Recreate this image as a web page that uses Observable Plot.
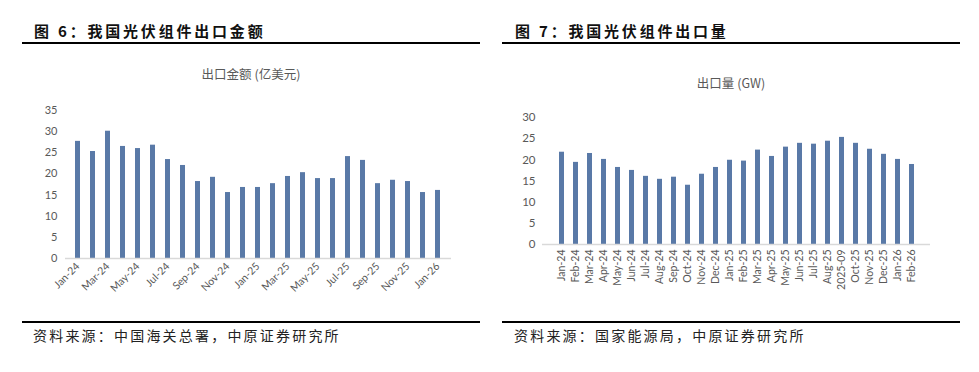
<!DOCTYPE html>
<html>
<head>
<meta charset="utf-8">
<script src="https://cdn.jsdelivr.net/npm/d3@7"></script>
<script src="https://cdn.jsdelivr.net/npm/@observablehq/plot@0.6"></script>
<style>
  html, body { margin: 0; padding: 0; background: #ffffff; }
  #root { position: relative; width: 979px; height: 372px; overflow: hidden; background: #fff; }
  .hdr { position: absolute; font-family: "Noto Sans CJK SC", sans-serif; font-weight: 700; font-size: 15px; letter-spacing: 2.8px; color: #111; white-space: nowrap; line-height: 1; }
  .rule { position: absolute; height: 2px; background: #000; }
  .src { position: absolute; font-family: "Noto Sans CJK SC", sans-serif; font-weight: 400; font-size: 14px; letter-spacing: 2.2px; color: #222; white-space: nowrap; line-height: 1; }
  .ctitle { position: absolute; font-family: "Noto Sans CJK SC", "Lato", sans-serif; font-size: 12.5px; color: #595959; white-space: nowrap; line-height: 1; transform: translateX(-50%); }
  .plot { position: absolute; }
</style>
</head>
<body>
<div id="root">
  <div class="hdr" style="left:34px; top:23px;">图 6：我国光伏组件出口金额</div>
  <div class="rule" style="left:22px; top:42px; width:458px;"></div>
  <div class="hdr" style="left:515px; top:23px;">图 7：我国光伏组件出口量</div>
  <div class="rule" style="left:502px; top:42px; width:458px;"></div>

  <div class="ctitle" style="left:251px; top:68px;">出口金额 (亿美元)</div>
  <div class="ctitle" style="left:731px; top:77px;">出口量 (GW)</div>

  <div class="plot" id="p1" style="left:0px; top:90px;"></div>
  <div class="plot" id="p2" style="left:490px; top:90px;"></div>

  <div class="rule" style="left:22px; top:321px; width:458px;"></div>
  <div class="rule" style="left:502px; top:321px; width:458px;"></div>
  <div class="src" style="left:33px; top:328px;">资料来源：中国海关总署，中原证券研究所</div>
  <div class="src" style="left:514px; top:328px;">资料来源：国家能源局，中原证券研究所</div>
</div>
<script>
// Chart 6: export value (100 million USD)
const valueMonths = ["Jan-24","Feb-24","Mar-24","Apr-24","May-24","Jun-24","Jul-24","Aug-24","Sep-24","Oct-24","Nov-24","Dec-24",
  "Jan-25","Feb-25","Mar-25","Apr-25","May-25","Jun-25","Jul-25","Aug-25","Sep-25","Oct-25","Nov-25","Dec-25","Jan-26"];
const exportValue = [27.7,25.3,30.1,26.5,26.0,26.8,23.4,22.0,18.2,19.2,15.6,16.8,
  16.8,17.7,19.4,20.3,18.9,18.9,24.1,23.2,17.7,18.5,18.2,15.6,16.1];
const valueTicks = [0,5,10,15,20,25,30,35];

// Chart 7: export volume (GW)
const volumeMonths = ["Jan-24","Feb-24","Mar-24","Apr-24","May-24","Jun-24","Jul-24","Aug-24","Sep-24","Oct-24","Nov-24","Dec-24",
  "Jan-25","Feb-25","Mar-25","Apr-25","May-25","Jun-25","Jul-25","Aug-25","2025-09","Oct-25","Nov-25","Dec-25","Jan-26","Feb-26"];
const exportVolume = [21.8,19.4,21.5,20.1,18.2,17.5,16.1,15.4,15.9,14.0,16.6,18.2,
  19.9,19.7,22.3,20.8,23.0,23.9,23.7,24.4,25.3,23.9,22.5,21.3,20.1,18.9];
const volumeTicks = [0,5,10,15,20,25,30];

const barColor = "#5979a7";
const axisColor = "#595959";
const baseColor = "#d9d9d9";

const data1 = valueMonths.map((m, i) => ({month: m, value: exportValue[i]}));
const data2 = volumeMonths.map((m, i) => ({month: m, value: exportVolume[i]}));

const p1 = Plot.plot({
  width: 490,
  height: 230,
  marginTop: 20,
  marginBottom: 62,
  marginLeft: 65,
  marginRight: 39,
  style: {fontFamily: "Lato, 'Liberation Sans', sans-serif", fontSize: "11px", color: axisColor, background: "transparent"},
  x: {domain: valueMonths, paddingInner: 0.65, paddingOuter: 0.33},
  y: {domain: [0, 35]},
  marks: [
    Plot.barY(data1, {x: "month", y: "value", fill: barColor}),
    Plot.ruleY([0], {stroke: baseColor, strokeWidth: 1.3}),
    Plot.axisY({ticks: valueTicks, tickSize: 0, tickPadding: 8, label: null, fill: axisColor, fontSize: 11}),
    Plot.axisX({ticks: valueMonths.filter((d, i) => i % 2 === 0), tickSize: 0, tickPadding: 6, tickRotate: -45, label: null, fill: axisColor, fontSize: 10.5})
  ]
});
document.getElementById("p1").appendChild(p1);

const p2 = Plot.plot({
  width: 489,
  height: 230,
  marginTop: 27,
  marginBottom: 76,
  marginLeft: 52,
  marginRight: 49,
  style: {fontFamily: "Lato, 'Liberation Sans', sans-serif", fontSize: "11px", color: axisColor, background: "transparent"},
  x: {domain: volumeMonths, paddingInner: 0.66, paddingOuter: 0.33},
  y: {domain: [0, 30]},
  marks: [
    Plot.barY(data2, {x: "month", y: "value", fill: barColor}),
    Plot.ruleY([0], {stroke: baseColor, strokeWidth: 1.3}),
    Plot.axisY({ticks: volumeTicks, tickSize: 0, tickPadding: 7, label: null, fill: axisColor, fontSize: 11.5}),
    Plot.axisX({tickSize: 0, tickPadding: 5, tickRotate: -90, label: null, fill: axisColor, fontSize: 10.5})
  ]
});
document.getElementById("p2").appendChild(p2);
</script>
</body>
</html>
